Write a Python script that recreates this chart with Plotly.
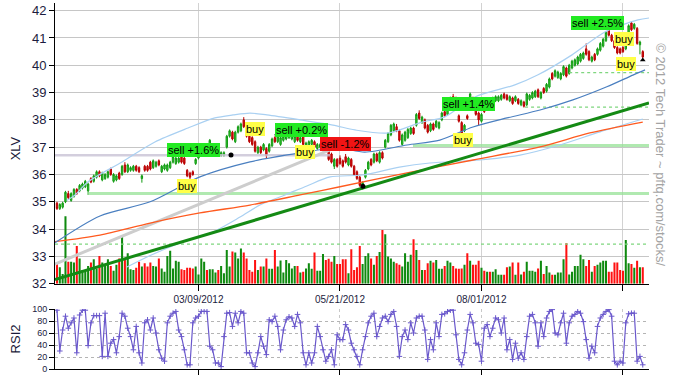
import plotly.graph_objects as go

FONT = "Liberation Sans, Arial, sans-serif"

# ---------------- data ----------------
tick_days = [50, 100, 150, 200]
tick_labels = ["03/09/2012", "05/21/2012", "08/01/2012", ""]

opens = [34.95, 34.75, 34.80, 35.00, 35.30, 35.05, 35.20, 35.45, 35.40, 35.50,
         35.55, 35.40, 35.85, 35.75, 35.90, 36.10, 35.80, 35.85, 35.90, 36.20,
         35.75, 35.80, 36.05, 36.00, 36.35, 36.10, 36.15, 36.15, 36.30, 36.25,
         35.85, 36.30, 36.30, 36.45, 36.25, 36.30, 36.50, 36.10, 36.20, 36.15,
         36.25, 36.45, 36.40, 36.45, 36.65, 36.60, 36.15, 36.05, 36.10, 36.40,
         36.60, 36.70, 36.85, 37.10, 37.00, 36.95, 36.85, 36.85, 36.70, 36.70,
         37.00, 37.40, 37.55, 37.20, 37.55, 37.60, 38.00, 37.75, 37.40, 37.35,
         37.20, 36.80, 37.00, 36.90, 36.95, 36.85, 37.05, 37.35, 37.20, 37.10,
         37.25, 37.30, 37.35, 37.30, 37.20, 37.45, 37.20, 37.40, 37.00, 37.05,
         37.10, 37.20, 36.95, 37.00, 36.90, 37.05, 36.85, 36.75, 36.30, 36.55,
         36.60, 36.50, 36.65, 36.35, 36.55, 36.30, 36.10, 35.90, 35.55, 35.90,
         36.20, 36.55, 36.45, 36.75, 36.45, 36.80, 37.00, 37.20, 37.45, 37.60,
         37.75, 37.60, 37.10, 37.25, 37.35, 37.50, 37.70, 37.80, 38.25, 37.90,
         38.00, 37.80, 37.60, 37.85, 37.75, 37.70, 38.00, 38.30, 38.20, 38.60,
         38.85, 38.80, 38.15, 37.90, 37.60, 38.15, 38.75, 38.80, 38.50, 38.25,
         37.95, 38.50, 38.40, 38.70, 38.60, 38.70, 38.70, 38.75, 38.95, 38.90,
         38.70, 38.80, 38.70, 38.75, 38.55, 38.65, 38.55, 38.75, 38.80, 38.85,
         39.10, 38.80, 39.15, 39.05, 39.20, 39.70, 39.60, 39.55, 39.50, 39.65,
         39.90, 39.70, 39.90, 40.00, 40.05, 40.15, 40.25, 40.60, 40.50, 40.15,
         40.40, 40.40, 40.55, 40.70, 40.90, 41.30, 41.10, 40.90, 40.65, 40.60,
         40.65, 40.60, 41.00, 41.55, 41.35, 41.35, 40.75, 40.50]

highs = [35.00, 34.95, 35.00, 35.40, 35.40, 35.35, 35.50, 35.50, 35.65, 35.70,
         35.80, 35.70, 35.90, 36.00, 36.15, 36.15, 36.10, 36.05, 36.15, 36.25,
         36.05, 36.00, 36.10, 36.35, 36.45, 36.40, 36.30, 36.35, 36.35, 36.30,
         36.00, 36.35, 36.35, 36.50, 36.55, 36.50, 36.55, 36.35, 36.40, 36.40,
         36.50, 36.70, 36.65, 36.65, 36.70, 36.65, 36.20, 36.10, 36.15, 36.60,
         36.80, 36.90, 37.15, 37.15, 37.30, 37.15, 37.05, 36.90, 36.85, 36.85,
         37.45, 37.65, 37.60, 37.60, 37.80, 37.90, 38.10, 37.80, 37.45, 37.40,
         37.25, 37.05, 37.05, 37.15, 37.00, 37.15, 37.35, 37.40, 37.45, 37.40,
         37.45, 37.50, 37.55, 37.50, 37.45, 37.50, 37.40, 37.45, 37.20, 37.25,
         37.30, 37.25, 37.15, 37.15, 37.10, 37.10, 36.90, 36.80, 36.60, 36.60,
         36.70, 36.55, 36.75, 36.65, 36.60, 36.35, 36.15, 35.95, 35.75, 36.20,
         36.50, 36.60, 36.80, 36.80, 36.85, 36.85, 37.30, 37.55, 37.85, 37.90,
         37.85, 37.65, 37.50, 37.60, 37.70, 37.75, 37.75, 38.25, 38.35, 38.15,
         38.05, 37.85, 37.90, 37.90, 38.00, 37.95, 38.30, 38.35, 38.55, 38.85,
         38.95, 38.85, 38.20, 37.95, 37.85, 38.20, 39.00, 38.85, 38.55, 38.30,
         38.25, 38.55, 38.70, 38.75, 38.85, 38.90, 38.90, 38.95, 39.00, 38.95,
         38.90, 38.85, 38.90, 38.80, 38.75, 38.70, 39.00, 38.95, 39.05, 39.10,
         39.15, 39.05, 39.20, 39.35, 39.55, 39.75, 39.85, 39.80, 39.75, 40.00,
         39.95, 40.05, 40.20, 40.25, 40.35, 40.45, 40.50, 40.80, 40.55, 40.35,
         40.45, 40.65, 40.85, 41.00, 41.25, 41.40, 41.15, 40.95, 40.70, 40.65,
         40.70, 40.95, 41.50, 41.60, 41.55, 41.40, 40.90, 40.55]

lows = [34.70, 34.70, 34.75, 34.95, 35.10, 35.00, 35.15, 35.25, 35.35, 35.45,
        35.50, 35.25, 35.68, 35.70, 35.85, 35.90, 35.75, 35.80, 35.85, 35.95,
        35.70, 35.75, 35.80, 35.95, 36.05, 36.05, 36.10, 36.10, 36.10, 36.05,
        35.70, 36.10, 36.10, 36.15, 36.20, 36.25, 36.30, 36.05, 36.15, 36.10,
        36.20, 36.40, 36.35, 36.40, 36.40, 36.35, 35.90, 35.80, 35.95, 36.35,
        36.55, 36.65, 36.80, 36.90, 36.95, 36.90, 36.80, 36.70, 36.65, 36.65,
        36.95, 37.35, 37.25, 37.15, 37.50, 37.55, 37.70, 37.35, 37.15, 37.05,
        36.80, 36.75, 36.75, 36.85, 36.60, 36.80, 37.00, 37.15, 37.15, 37.05,
        37.20, 37.25, 37.30, 37.25, 37.15, 37.20, 37.15, 37.05, 36.95, 37.00,
        37.05, 36.95, 36.90, 36.95, 36.85, 36.80, 36.50, 36.40, 36.20, 36.25,
        36.35, 36.25, 36.40, 36.30, 36.25, 35.95, 35.80, 35.55, 35.45, 35.85,
        36.15, 36.30, 36.40, 36.45, 36.40, 36.55, 36.95, 37.15, 37.40, 37.55,
        37.55, 37.20, 37.05, 37.20, 37.30, 37.45, 37.45, 37.75, 38.00, 37.85,
        37.65, 37.50, 37.55, 37.60, 37.70, 37.65, 37.95, 38.10, 38.15, 38.55,
        38.65, 38.55, 37.90, 37.45, 37.55, 38.00, 38.70, 38.45, 38.15, 37.80,
        37.90, 38.25, 38.35, 38.50, 38.55, 38.65, 38.65, 38.70, 38.75, 38.70,
        38.65, 38.55, 38.65, 38.55, 38.50, 38.45, 38.50, 38.70, 38.75, 38.80,
        38.80, 38.75, 38.95, 39.00, 39.15, 39.45, 39.55, 39.50, 39.45, 39.60,
        39.55, 39.65, 39.85, 39.95, 40.00, 40.10, 40.20, 40.35, 40.15, 40.10,
        40.15, 40.35, 40.50, 40.65, 40.85, 41.05, 40.85, 40.60, 40.40, 40.40,
        40.45, 40.55, 40.95, 41.25, 41.30, 40.75, 40.40, 40.25]

closes = [34.75, 34.90, 34.95, 35.35, 35.15, 35.30, 35.45, 35.30, 35.60, 35.65,
          35.75, 35.65, 35.72, 35.95, 36.10, 35.95, 36.05, 36.00, 36.10, 36.00,
          36.00, 35.95, 35.85, 36.30, 36.10, 36.35, 36.25, 36.30, 36.15, 36.10,
          35.95, 36.15, 36.15, 36.20, 36.50, 36.45, 36.35, 36.30, 36.35, 36.35,
          36.45, 36.65, 36.60, 36.60, 36.45, 36.40, 35.95, 35.90, 36.00, 36.55,
          36.75, 36.85, 37.10, 36.95, 37.25, 37.10, 37.00, 36.75, 36.80, 36.80,
          37.40, 37.60, 37.30, 37.55, 37.75, 37.85, 37.75, 37.40, 37.20, 37.10,
          36.85, 37.00, 36.80, 37.10, 36.70, 37.10, 37.30, 37.20, 37.40, 37.35,
          37.40, 37.45, 37.50, 37.45, 37.40, 37.25, 37.35, 37.10, 37.15, 37.20,
          37.25, 37.00, 37.10, 37.10, 37.05, 36.85, 36.55, 36.45, 36.55, 36.30,
          36.40, 36.30, 36.45, 36.60, 36.30, 36.00, 35.85, 35.60, 35.70, 36.15,
          36.45, 36.35, 36.75, 36.50, 36.80, 36.60, 37.25, 37.50, 37.80, 37.85,
          37.60, 37.25, 37.45, 37.55, 37.65, 37.70, 37.50, 38.20, 38.05, 38.10,
          37.70, 37.55, 37.85, 37.65, 37.95, 37.90, 38.25, 38.15, 38.50, 38.80,
          38.70, 38.60, 37.95, 37.50, 37.80, 38.05, 38.95, 38.50, 38.20, 38.00,
          38.20, 38.30, 38.65, 38.55, 38.80, 38.85, 38.85, 38.90, 38.80, 38.75,
          38.85, 38.60, 38.85, 38.60, 38.70, 38.50, 38.95, 38.90, 39.00, 39.05,
          38.85, 39.00, 39.00, 39.30, 39.50, 39.50, 39.80, 39.75, 39.70, 39.95,
          39.60, 40.00, 40.15, 40.20, 40.30, 40.40, 40.45, 40.40, 40.20, 40.30,
          40.20, 40.60, 40.80, 40.95, 41.20, 41.10, 40.90, 40.65, 40.45, 40.45,
          40.50, 40.90, 41.45, 41.30, 41.50, 40.80, 40.85, 40.30]

volume_m = [5.1, 4.1, 2.4, 16.8, 5.5, 5.5, 5.3, 9.4, 6.3, 3.4,
            3.4, 4.4, 5.3, 6.1, 3.8, 6.9, 5.3, 4.7, 6.1, 4.4,
            3.2, 4.7, 6.3, 11.7, 5.9, 7.6, 3.6, 3.4, 4.0, 5.5,
            4.3, 5.1, 4.3, 5.3, 4.4, 4.3, 6.3, 3.8, 3.0, 6.9,
            8.2, 3.8, 5.7, 5.5, 3.6, 3.4, 4.0, 4.0, 3.8, 4.3,
            2.3, 6.3, 5.5, 3.4, 3.6, 3.6, 2.8, 3.4, 4.4, 2.6,
            8.4, 4.3, 8.0, 7.8, 6.3, 8.8, 7.8, 6.3, 3.4, 3.0,
            5.9, 3.4, 4.3, 4.3, 6.3, 3.7, 3.7, 8.4, 4.3, 5.8,
            2.8, 5.9, 5.1, 3.8, 4.4, 4.4, 2.8, 3.0, 3.8, 5.1,
            3.7, 7.8, 3.2, 3.2, 7.4, 5.9, 6.2, 5.5, 6.9, 4.9,
            4.9, 6.1, 6.1, 2.6, 8.6, 3.4, 4.1, 9.4, 4.9, 6.9,
            7.6, 6.3, 4.7, 6.9, 7.9, 13.4, 12.3, 6.8, 6.3, 5.5,
            5.1, 4.7, 4.3, 7.6, 5.5, 7.2, 11.1, 8.4, 5.9, 3.4,
            3.4, 5.1, 5.7, 5.3, 5.9, 3.7, 3.7, 4.4, 5.7, 5.3,
            4.4, 3.8, 3.7, 3.8, 4.7, 7.6, 5.7, 4.7, 4.7, 5.7,
            4.0, 3.2, 3.0, 3.0, 3.0, 3.6, 2.2, 2.2, 2.2, 4.1,
            4.3, 5.3, 2.2, 5.3, 2.3, 3.0, 5.5, 3.2, 3.2, 3.0,
            3.8, 5.7, 2.4, 4.4, 2.8, 2.2, 2.2, 2.8, 2.8, 6.1,
            10.1, 2.3, 3.0, 4.4, 4.4, 7.2, 6.1, 4.4, 5.9, 3.0,
            4.4, 4.7, 5.3, 5.7, 5.7, 3.0, 3.0, 5.3, 5.3, 3.4,
            3.2, 10.9, 5.1, 4.9, 4.0, 5.7, 4.1, 4.1]

volume_dir = ("rgggrggrgg" "ggrggrgggr" "ggrgrgggrr" "grrrggrggg" "ggggrrrrrg"
              "gggrgggrgg" "ggrgggrrrr" "rgrgrggrgg" "gggggrgrgg" "grgggrrrgr"
              "rrrgrrrrgg" "grgrgrgggg" "rrggggrgrg" "rrgrgggrgg" "rrrrgrgrrr"
              "grgrggggrr" "grgrgrgggg" "rgrggrgggg" "rggggggrrg" "rggggrrrrr"
              "rggrgrgr")

rsi2 = [98, 30, 65, 88, 68, 77, 85, 27, 90, 98,
        98, 39, 77, 89, 89, 89, 21, 93, 21, 43,
        49, 27, 54, 93, 88, 68, 54, 32, 71, 27,
        10, 77, 82, 65, 85, 60, 32, 18, 13, 77,
        88, 93, 96, 65, 54, 32, 7, 7, 77, 85,
        88, 96, 96, 96, 38, 32, 10, 10, 4, 54,
        93, 94, 71, 93, 77, 96, 93, 27, 27, 10,
        4, 27, 54, 38, 24, 82, 79, 88, 71, 32,
        65, 82, 87, 85, 71, 91, 77, 27, 7, 27,
        10, 27, 71, 54, 32, 13, 21, 32, 7, 57,
        49, 49, 74, 65, 43, 32, 21, 7, 32, 54,
        77, 88, 93, 54, 71, 85, 88, 79, 91, 96,
        71, 21, 54, 65, 49, 77, 60, 85, 88, 88,
        65, 16, 49, 32, 77, 54, 91, 92, 96, 98,
        98, 57, 16, 7, 27, 65, 91, 77, 43, 41,
        13, 68, 74, 54, 68, 85, 82, 60, 85, 32,
        49, 16, 43, 18, 27, 16, 54, 88, 91, 77,
        38, 77, 54, 85, 96, 99, 60, 57, 77, 93,
        43, 77, 88, 91, 96, 93, 79, 49, 18, 38,
        27, 71, 85, 91, 96, 99, 88, 13, 7, 13,
        10, 77, 92, 93, 93, 13, 21, 7]

# indicator curves (sampled at trading-day index)
upper_band_day = [3.5, 6.4, 11.0, 23.0, 34.6, 46.3, 55.8, 62.2, 68.2, 74.2, 85.9, 97.5,
                  105.3, 117.0, 129.0, 137.0, 147.7, 161.8, 170.0, 182.0, 193.6, 205.3, 209.2]
upper_band = [35.05, 35.25, 35.73, 36.46, 37.19, 37.70, 38.07, 38.18, 38.25, 38.18, 38.00, 37.81,
              37.63, 37.52, 37.92, 38.11, 38.84, 39.28, 39.65, 40.38, 41.22, 41.66, 41.73]
lower_band_day = [24.7, 31.8, 43.5, 55.0, 64.7, 71.7, 80.6, 88.3, 96.5, 108.0, 121.0, 131.8,
                  149.5, 163.6, 177.7, 191.9, 207.0]
lower_band = [32.61, 32.98, 33.49, 33.89, 34.44, 34.88, 35.25, 35.58, 35.91, 35.98, 36.27, 36.42,
              36.53, 36.71, 37.08, 37.56, 38.03]
ma_mid_day = [-0.7, 15.2, 32.9, 50.5, 68.2, 85.9, 99.3, 108.8, 123.7, 135.3, 147.0, 159.0,
              170.7, 182.3, 194.3, 203.5, 207.8]
ma_mid = [33.50, 34.48, 35.00, 35.91, 36.46, 36.79, 36.97, 36.82, 37.08, 37.26, 37.74, 38.07,
          38.36, 38.73, 39.21, 39.64, 39.83]
ma_long_day = [-0.7, 15.2, 32.9, 50.5, 68.2, 85.9, 100.0, 123.7, 147.0, 170.7, 188.3, 207.0]
ma_long = [33.54, 33.78, 34.22, 34.59, 34.88, 35.25, 35.55, 36.06, 36.53, 37.01, 37.52, 37.92]

trend_day = [-0.7, 209.2]
trend_price = [32.15, 38.62]
gray_trend_day = [-0.7, 96.5]
gray_trend_price = [32.72, 36.90]

level_price = [36.70, 35.30, 33.45, 37.06, 38.47, 39.73]
level_from = [-0.7, 11.0, -0.7, 125.8, 165.4, 181.0]
level_to = [96.5, 209.2, 209.2, 209.2, 209.2, 209.2]
level_kind = ["gray", "strong", "weak", "strong", "weak", "weak"]

signal_text = ["sell +1.6%", "buy", "buy", "sell +0.2%", "buy", "sell -1.2%",
               "sell +1.4%", "buy", "sell +2.5%", "buy", "buy"]
signal_day = [48.2, 46.1, 69.8, 86.4, 87.5, 101.9, 145.4, 143.5, 191.0, 200.4, 201.2]
signal_price = [36.89, 35.58, 37.65, 37.63, 36.81, 37.12, 38.58, 37.25, 41.55, 40.95, 40.03]
signal_kind = ["win", "buy", "buy", "win", "buy", "loss", "win", "buy", "win", "buy", "buy"]

mark_day = [61.5, 77.7, 108.1, 207.0]
mark_price = [36.71, 37.48, 35.57, 40.19]
mark_symbol = ["circle", "triangle-up", "circle", "triangle-up"]

# ---------------- figure ----------------
days = list(range(len(closes)))
vol_colors = ["#0f8a0f" if c == "g" else "#ff1010" for c in volume_dir]

fig = go.Figure()

fig.add_trace(go.Bar(x=days, y=volume_m, width=0.72, xaxis="x", yaxis="y",
                     marker=dict(color=vol_colors, line=dict(width=0)),
                     hoverinfo="skip", showlegend=False))

level_style = {
    "gray": dict(color="rgba(200,194,212,0.8)", width=2.5),
    "strong": dict(color="rgba(150,226,150,0.75)", width=3),
    "weak": dict(color="#7fd67f", width=1.3, dash="dot"),
}
for p, a, b, k in zip(level_price, level_from, level_to, level_kind):
    fig.add_trace(go.Scatter(x=[a, b], y=[p, p], mode="lines", xaxis="x", yaxis="y2",
                             line=level_style[k], hoverinfo="skip", showlegend=False))

fig.add_trace(go.Scatter(x=gray_trend_day, y=gray_trend_price, mode="lines", xaxis="x", yaxis="y2",
                         line=dict(color="#cdcdcd", width=3), hoverinfo="skip", showlegend=False))

for xs, ys, col, w in [(upper_band_day, upper_band, "#a9d0f2", 1.2),
                       (lower_band_day, lower_band, "#a9d0f2", 1.2),
                       (ma_long_day, ma_long, "#ff5a1f", 1.3),
                       (ma_mid_day, ma_mid, "#4a7fc0", 1.2)]:
    fig.add_trace(go.Scatter(x=xs, y=ys, mode="lines", xaxis="x", yaxis="y2",
                             line=dict(color=col, width=w, shape="spline", smoothing=0.8),
                             hoverinfo="skip", showlegend=False))

fig.add_trace(go.Scatter(x=trend_day, y=trend_price, mode="lines", xaxis="x", yaxis="y2",
                         line=dict(color="#148a14", width=3), hoverinfo="skip", showlegend=False))

fig.add_trace(go.Candlestick(x=days, open=opens, high=highs, low=lows, close=closes,
                             xaxis="x", yaxis="y2", whiskerwidth=0,
                             increasing=dict(line=dict(color="#139a13", width=1), fillcolor="#35cf35"),
                             decreasing=dict(line=dict(color="#b80000", width=1), fillcolor="#d81010"),
                             hoverinfo="skip", showlegend=False))

fig.add_trace(go.Scatter(x=mark_day, y=mark_price, mode="markers", xaxis="x", yaxis="y2",
                         marker=dict(symbol=mark_symbol, size=5, color="black"),
                         hoverinfo="skip", showlegend=False))

fig.add_trace(go.Scatter(x=days, y=rsi2, mode="lines+markers", xaxis="x2", yaxis="y3",
                         line=dict(color="#6a58cc", width=1.2),
                         marker=dict(symbol="cross-thin", size=4, line=dict(width=1, color="#6a58cc")),
                         hoverinfo="skip", showlegend=False))

box_color = {"win": "#22ea22", "loss": "#f01414", "buy": "#ffff48"}
annotations = []
for t, xd, yp, k in zip(signal_text, signal_day, signal_price, signal_kind):
    annotations.append(dict(x=xd, y=yp, xref="x", yref="y2", text=t, showarrow=False,
                            xanchor="center", yanchor="middle",
                            bgcolor=box_color[k], borderpad=1, borderwidth=0,
                            font=dict(family=FONT, size=11, color="black")))

annotations.append(dict(x=-0.065, y=0.604, xref="paper", yref="paper", text="XLV", textangle=-90,
                        xanchor="center", yanchor="middle",
                        showarrow=False, font=dict(family=FONT, size=13, color="#1a1a3a")))
annotations.append(dict(x=-0.065, y=0.082, xref="paper", yref="paper", text="RSI2", textangle=-90,
                        xanchor="center", yanchor="middle",
                        showarrow=False, font=dict(family=FONT, size=13, color="#1a1a3a")))
annotations.append(dict(x=1.018, y=0.585, xref="paper", yref="paper",
                        text="\u00a9 2012 Tech Trader ~ pftq.com/stocks/", textangle=90,
                        xanchor="center", yanchor="middle",
                        showarrow=False, font=dict(family=FONT, size=13, color="#a3a3a3")))

axis_font = dict(family=FONT, color="#1c1c40")

fig.update_layout(
    width=677, height=382,
    margin=dict(l=55, r=28, t=3, b=13, autoexpand=False),
    paper_bgcolor="white", plot_bgcolor="white",
    showlegend=False,
    annotations=annotations,
    xaxis=dict(domain=[0, 1], anchor="y", range=[-0.7, 209.2],
               tickvals=tick_days, ticktext=tick_labels,
               ticks="outside", ticklen=6, tickcolor="black",
               showline=True, linecolor="black", linewidth=1,
               showgrid=True, gridcolor="#d2d2d2", zeroline=False,
               rangeslider=dict(visible=False),
               tickfont=dict(size=10, **axis_font)),
    yaxis=dict(domain=[0.2331, 1], range=[0, 70], showticklabels=False, showgrid=False,
               showline=False, zeroline=False, ticks=""),
    yaxis2=dict(overlaying="y", anchor="x", side="left", range=[32, 42.28],
                tickvals=list(range(32, 43)), ticks="outside", ticklen=5, tickcolor="black",
                showline=True, linecolor="black", linewidth=1,
                showgrid=True, gridcolor="#c6c6c6", zeroline=False,
                tickfont=dict(size=13, **axis_font)),
    xaxis2=dict(domain=[0, 1], anchor="y3", matches="x", range=[-0.7, 209.2],
                tickvals=tick_days, showticklabels=False,
                ticks="outside", ticklen=5, tickcolor="black",
                showline=True, linecolor="black", linewidth=1,
                showgrid=True, gridcolor="#c8c8c8", griddash="dot", zeroline=False),
    yaxis3=dict(domain=[0, 0.1639], anchor="x2", range=[0, 100],
                tickvals=[0, 20, 40, 60, 80, 100], ticks="outside", ticklen=5, tickcolor="black",
                showline=True, linecolor="black", linewidth=1,
                showgrid=True, gridcolor="#b4b4b4", griddash="dot", zeroline=False,
                tickfont=dict(size=9, **axis_font)),
)

fig.write_html("out.html", config={"displayModeBar": False, "staticPlot": True},
               post_script="document.body.style.margin='0';document.body.style.overflow='hidden';")
